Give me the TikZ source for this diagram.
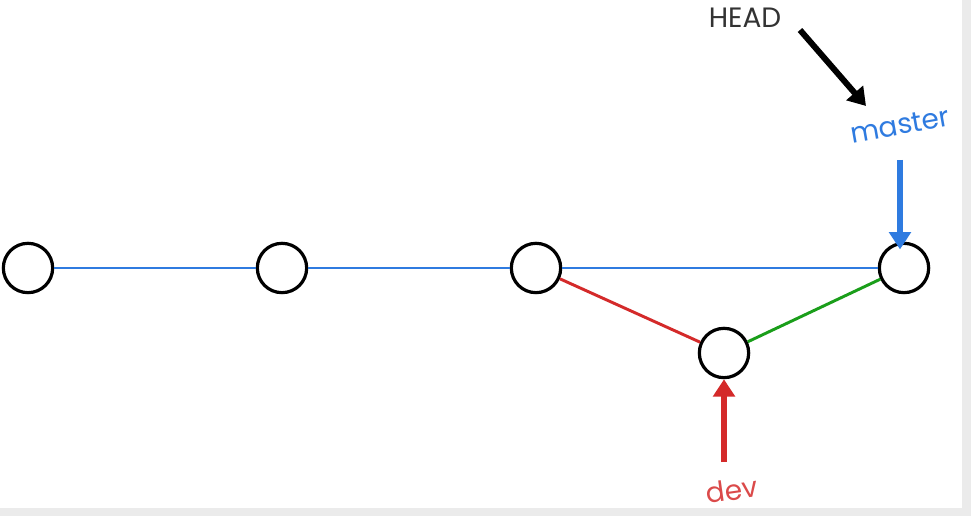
\documentclass[tikz,border=0pt]{standalone}
\usepackage{fontspec}
\setmainfont{Poppins}
\usetikzlibrary{arrows.meta}
\definecolor{gblue}{HTML}{2F7BE0}
\definecolor{gred}{HTML}{D42A2A}
\definecolor{ggreen}{HTML}{1A9E1A}
\definecolor{gborder}{HTML}{EBEBEB}
\begin{document}
\begin{tikzpicture}[x=0.75pt,y=-0.75pt,
  commit/.style={circle,draw=black,line width=2.4pt,minimum size=37pt,inner sep=0pt,fill=white},
  edge/.style={line width=2.2pt},
  ptr/.style={line width=4.5pt,-{Triangle[length=13pt,width=16pt]}},
  lbl/.style={font=\fontsize{21}{22}\selectfont,inner sep=1pt}]
\fill[gborder] (0,0) rectangle (971,516);
\fill[white] (0,0) rectangle (962,508);
\useasboundingbox (0,0) rectangle (971,516);
\node[commit] (c1) at (28,268) {};
\node[commit] (c2) at (282,268) {};
\node[commit] (c3) at (536,268) {};
\node[commit] (c4) at (904,268) {};
\node[commit] (c5) at (724,353) {};
\draw[edge,gblue] (c1) -- (c2);
\draw[edge,gblue] (c2) -- (c3);
\draw[edge,gblue] (c3) -- (c4);
\draw[edge,gred] (c3) -- (c5);
\draw[edge,ggreen] (c5) -- (c4);
\node[lbl,text=black!80] (head) at (745,18) {HEAD};
\node[lbl,text=gblue,rotate=10] (master) at (900,125) {master};
\node[lbl,text=gred!85,rotate=8] (dev) at (732,490) {dev};
\coordinate (hs) at (800,30);
\coordinate (he) at (866,106);
\draw[ptr,black] (hs) -- (he);
\coordinate (ms) at (900,160);
\draw[ptr,gblue] (ms) -- (c4.north west -| ms);
\coordinate (ds) at (724,462);
\draw[ptr,gred] (ds) -- (c5);
\end{tikzpicture}
\end{document}
